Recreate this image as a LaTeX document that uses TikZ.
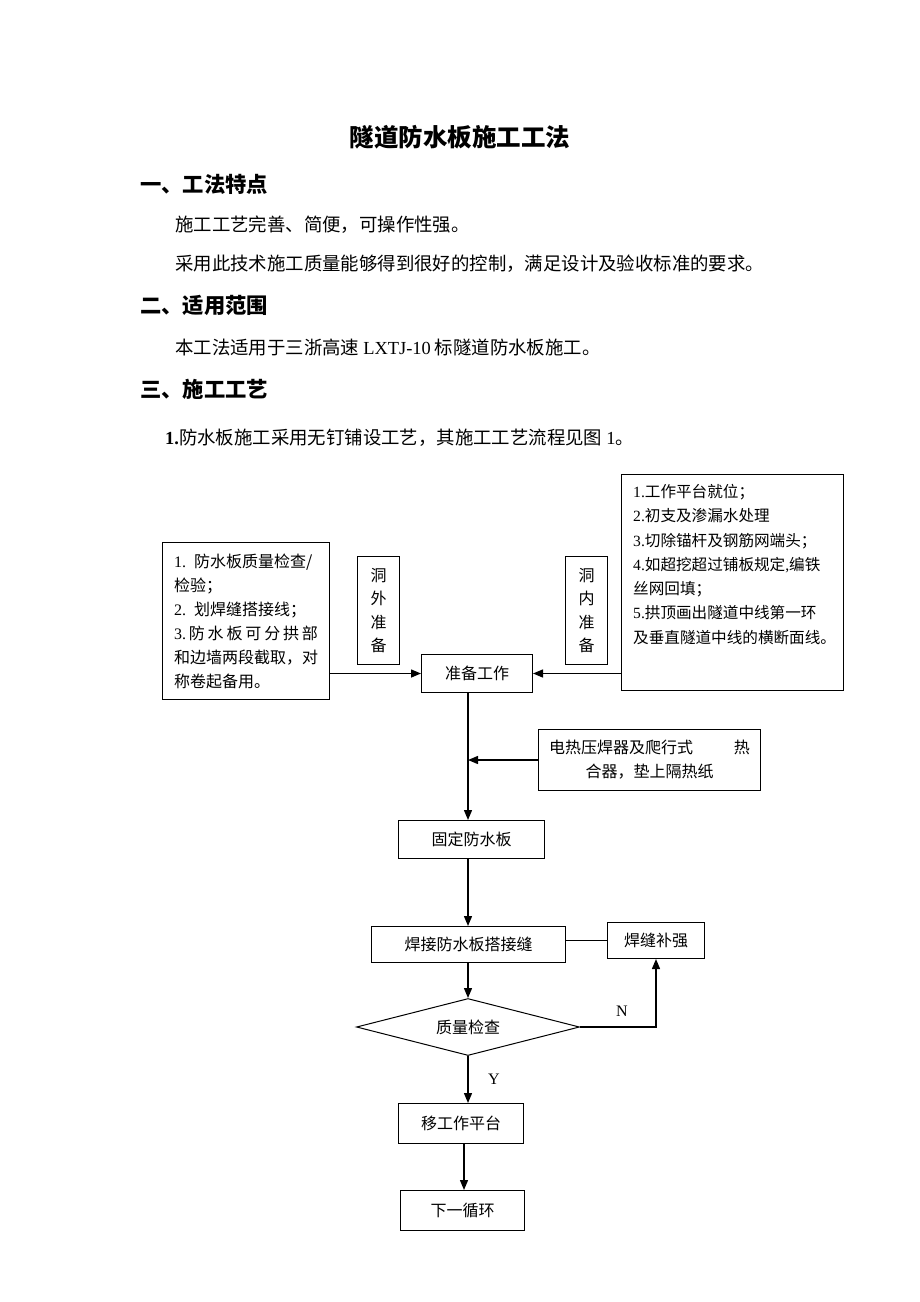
\documentclass[tikz,border=0pt]{standalone}
\usepackage{fontspec}
\setmainfont{Noto Sans CJK SC}
\newfontfamily\lat{Liberation Serif}
\usetikzlibrary{arrows.meta,shapes.geometric}
\begin{document}
\begin{tikzpicture}[x=1pt,y=-1pt,
  box/.style={draw,line width=1pt,inner sep=0pt,anchor=north west,align=center,font=\fontsize{16}{24}\selectfont},
  arr/.style={line width=1.4pt,-{Triangle[length=10pt,width=8pt]}},
  ln/.style={line width=1.2pt},
  body/.style={anchor=west,inner sep=0pt,font=\fontsize{18.4}{22}\selectfont},
  head/.style={anchor=west,inner sep=0pt,font=\fontsize{21.3}{24}\selectfont\bfseries},
  lab/.style={inner sep=0pt,font=\fontsize{16}{18}\selectfont\lat},
]
\useasboundingbox[fill=white] (0,0) rectangle (920,1302);

% header texts
\node[inner sep=0pt,font=\fontsize{24.5}{26}\selectfont\bfseries] (title) at (460,137) {隧道防水板施工工法};
\node[head] (h1) at (140,184) {一、工法特点};
\node[body] (t1) at (175,225) {施工工艺完善、简便，可操作性强。};
\node[body] (t2) at (175,264) {采用此技术施工质量能够得到很好的控制，满足设计及验收标准的要求。};
\node[head] (h2) at (140,305) {二、适用范围};
\node[body] (t3) at (175,348) {本工法适用于三浙高速 {\lat LXTJ-10} 标隧道防水板施工。};
\node[head] (h3) at (140,389) {三、施工工艺};
\node[body] (t4) at (165,438) {{\lat\bfseries 1.}防水板施工采用无钉铺设工艺，其施工工艺流程见图 {\lat 1}。};

% flowchart nodes
\coordinate (mx) at (468,0);
\coordinate (ex) at (464,0);

\node[box,minimum width=167pt,minimum height=157pt,text width=144pt,align=left] (lbox) at (162,542)
  {{\lat 1.} 防水板质量检查/\\检验；\\{\lat 2.} 划焊缝搭接线；\\\makebox[144pt][s]{{\lat 3.}\hfill 防\hfill 水\hfill 板\hfill 可\hfill 分\hfill 拱\hfill 部}\\和边墙两段截取，对\\称卷起备用。};
\node[box,minimum width=42pt,minimum height=108pt,font=\fontsize{16}{23.5}\selectfont] (wbox) at (357,556) {洞\\外\\准\\备};
\node[box,minimum width=42pt,minimum height=108pt,font=\fontsize{16}{23.5}\selectfont] (nbox) at (565,556) {洞\\内\\准\\备};
\node[box,minimum width=222pt,minimum height=216pt] (rbox) at (621,474) {};
\node[anchor=north west,inner sep=0pt,align=left,font=\fontsize{15.6}{24.3}\selectfont] (rtext) at (633,484)
  {{\lat 1.}工作平台就位；\\{\lat 2.}初支及渗漏水处理\\{\lat 3.}切除锚杆及钢筋网端头；\\{\lat 4.}如超挖超过铺板规定{\lat ,}编铁\\丝网回填；\\{\lat 5.}拱顶画出隧道中线第一环\\及垂直隧道中线的横断面线。};
\node[box,minimum width=111pt,minimum height=38pt] (prep) at (421,654) {准备工作};
\node[box,minimum width=222pt,minimum height=61pt] (heat) at (538,729) {电热压焊器及爬行式\hspace{41pt}热\\合器，垫上隔热纸};
\node[box,minimum width=146pt,minimum height=38pt] (fix) at (398,820) {固定防水板};
\node[box,minimum width=194pt,minimum height=36pt] (weld) at (371,926) {焊接防水板搭接缝};
\node[box,minimum width=97pt,minimum height=36pt] (rein) at (607,922) {焊缝补强};
\node[draw,line width=1pt,diamond,shape aspect=3.9,inner sep=0pt,minimum width=223pt,minimum height=57pt,font=\fontsize{16}{18}\selectfont] (check) at (468,1027) {质量检查};
\node[box,minimum width=125pt,minimum height=40pt] (move) at (398,1103) {移工作平台};
\node[box,minimum width=124pt,minimum height=40pt] (next) at (400,1190) {下一循环};

% connectors
\draw[arr] (lbox.east |- prep.west) -- (prep.west);
\draw[arr] (rbox.west |- prep.east) -- (prep.east);
\draw[arr] (prep.south -| mx) -- (fix.north -| mx);
\draw[arr] (heat.west) -- (heat.west -| mx);
\draw[arr] (fix.south -| mx) -- (weld.north -| mx);
\draw[ln] (rein.west -| weld.east) -- (rein.west);
\draw[arr] (weld.south -| mx) -- (check.north);
\draw[arr] (check.east) -| (rein.south);
\node[lab] (nlab) at (622,1011) {N};
\draw[arr] (check.south) -- (move.north -| mx);
\node[lab] (ylab) at (494,1079) {Y};
\draw[arr] (move.south -| ex) -- (next.north -| ex);
\end{tikzpicture}
\end{document}
